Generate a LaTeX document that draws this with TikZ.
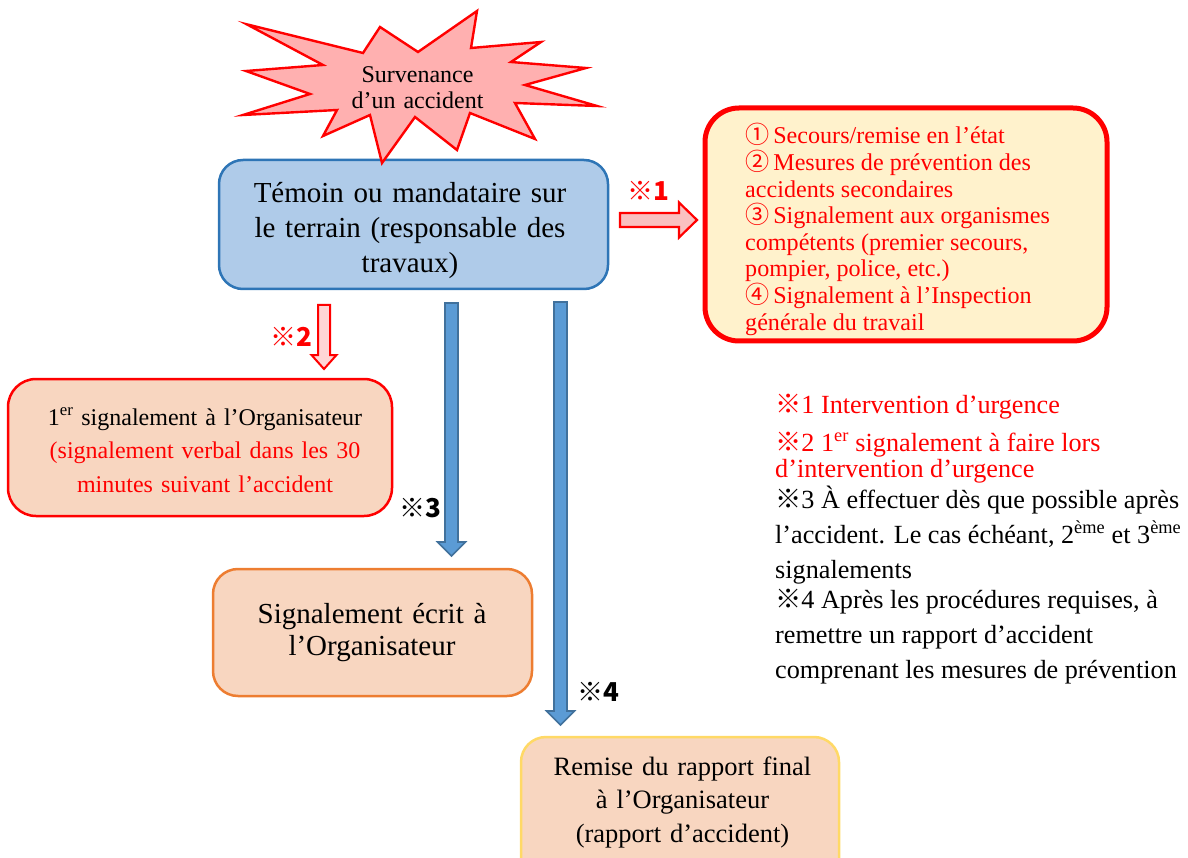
\documentclass[tikz,border=0pt]{standalone}
\usepackage{fontspec}
\setmainfont{Liberation Serif}
\newfontfamily\cjkfont{Noto Sans CJK JP}
\usetikzlibrary{calc}

\definecolor{bluefill}{RGB}{175,203,233}
\definecolor{blueline}{RGB}{46,117,182}
\definecolor{arrowblue}{RGB}{91,155,213}
\definecolor{arrowblueline}{RGB}{65,113,156}
\definecolor{pinkfill}{RGB}{255,176,176}
\definecolor{arrowpink}{RGB}{250,192,192}
\definecolor{arrowpinklight}{RGB}{255,214,214}
\definecolor{peach}{RGB}{248,214,192}
\definecolor{paleyellow}{RGB}{255,242,204}
\definecolor{orangeline}{RGB}{237,125,49}
\definecolor{goldline}{RGB}{255,217,102}

% vertical block arrow pointing down: style, start, end, shaft half width, head half width, head length
\newcommand\downblockarrow[6]{%
  \draw[#1] let \p1=(#2), \p2=(#3) in
    (\x1-#4,\y1) -- (\x1+#4,\y1) -- (\x1+#4,\y2+#6) -- (\x1+#5,\y2+#6)
    -- (\x1,\y2) -- (\x1-#5,\y2+#6) -- (\x1-#4,\y2+#6) -- cycle;}
% horizontal block arrow pointing right
\newcommand\rightblockarrow[6]{%
  \draw[#1] let \p1=(#2), \p2=(#3) in
    (\x1,\y1+#4) -- (\x2-#6,\y1+#4) -- (\x2-#6,\y1+#5) -- (\x2,\y1)
    -- (\x2-#6,\y1-#5) -- (\x2-#6,\y1-#4) -- (\x1,\y1-#4) -- cycle;}

\newcommand\circnum[1]{{\cjkfont #1}\,}
\newcommand\refmark{{\cjkfont ※}}

\begin{document}
\begin{tikzpicture}[x=1pt,y=-1pt,line join=miter,
  stepbox/.style={draw,inner sep=0pt,line width=2.5pt},
  txtc/.style={inner sep=0pt,align=center,anchor=base},
  lineL/.style={inner sep=0pt,anchor=base west},
  emergline/.style={lineL,text=red,font=\fontsize{24.1}{26}\selectfont},
  noteline/.style={lineL,font=\fontsize{26.2}{26}\selectfont},
  marklabel/.style={inner sep=0pt,font=\cjkfont\bfseries\fontsize{26}{26}\selectfont},
  redarrow/.style={draw=red,line width=2.2pt,fill=arrowpink},
  redarrowlight/.style={draw=red,line width=2pt,fill=arrowpinklight},
  bluearrow/.style={draw=arrowblueline,line width=1.6pt,fill=arrowblue},
  burst/.style={draw=red,line width=2.4pt,fill=pinkfill}]

\useasboundingbox (0,0) rectangle (1188,858);
\clip (0,0) rectangle (1188,858);

% ---- boxes ----
\node[stepbox,draw=blueline,fill=bluefill,rounded corners=24pt,
      minimum width=389pt,minimum height=129pt] (main) at (413.5,224.5) {};

\node[draw=red,line width=5pt,fill=paleyellow,rounded corners=34pt,inner sep=0pt,
      minimum width=402pt,minimum height=233pt] (emerg) at (906,224.5) {};

\node[stepbox,draw=red,fill=peach,rounded corners=28pt,
      minimum width=384pt,minimum height=137pt] (first) at (200,447.5) {};

\node[stepbox,draw=orangeline,fill=peach,rounded corners=25pt,
      minimum width=319pt,minimum height=127pt] (written) at (372.5,632.5) {};

\node[stepbox,draw=goldline,fill=peach,rounded corners=25pt,
      minimum width=318pt,minimum height=150pt] (final) at (680,812) {};

% ---- accident burst ----
\draw[burst] (246.7,24.3) -- (363,53) -- (380,27) -- (418,52) -- (477,11)
  -- (471,48) -- (541,42) -- (511,62) -- (586,68) -- (525,85) -- (597,106)
  -- (515,103) -- (535,139) -- (470,113) -- (457,150) -- (415,117)
  -- (382,163) -- (370,115) -- (323,136) -- (337,110) -- (243,115)
  -- (310,94) -- (246,71) -- (323,65) -- cycle;
\node[txtc,text width=200pt,font=\fontsize{24}{26.5}\selectfont] (burstT) at (417.5,82.5)
  {Survenance\\ d’un accident};

% ---- box texts ----
\node[txtc,text width=360pt,font=\fontsize{29}{35}\selectfont] (mainT) at (410,203)
  {Témoin ou mandataire sur\\ le terrain (responsable des\\ travaux)};

\node[emergline] (e1) at (745,144.0) {\circnum{①}Secours/remise en l’état};
\node[emergline] (e2) at (745,170.6) {\circnum{②}Mesures de prévention des};
\node[emergline] (e3) at (745,197.2) {accidents secondaires};
\node[emergline] (e4) at (745,223.8) {\circnum{③}Signalement aux organismes};
\node[emergline] (e5) at (745,250.4) {compétents (premier secours,};
\node[emergline] (e6) at (745,277.0) {pompier, police, etc.)};
\node[emergline] (e7) at (745,303.6) {\circnum{④}Signalement à l’Inspection};
\node[emergline] (e8) at (745,330.2) {générale du travail};

\node[txtc,text width=370pt,font=\fontsize{24}{33.5}\selectfont] (firstT) at (205,425)
  {1\textsuperscript{er} signalement à l’Organisateur\\
   \textcolor{red}{(signalement verbal dans les 30}\\
   \textcolor{red}{minutes suivant l’accident}};

\node[txtc,text width=310pt,font=\fontsize{29}{32}\selectfont] (writtenT) at (372,623)
  {Signalement écrit à\\ l’Organisateur};

\node[txtc,text width=310pt,font=\fontsize{26.5}{33.5}\selectfont] (finalT) at (682.5,775)
  {Remise du rapport final\\ à l’Organisateur\\ (rapport d’accident)};

% ---- block arrows ----
\coordinate (a1s) at (620,220);
\coordinate (a1e) at (697,220);
\coordinate (a2s) at (324,305);
\coordinate (a2e) at (324,369);
\coordinate (a3s) at (451.5,303);
\coordinate (a3e) at (451.5,556);
\coordinate (a4s) at (560.5,302);
\coordinate (a4e) at (560.5,725);

\rightblockarrow{redarrow}{a1s}{a1e}{7pt}{17.5pt}{18pt}
\downblockarrow{redarrowlight}{a2s}{a2e}{6pt}{12.5pt}{14pt}
\downblockarrow{bluearrow}{a3s}{a3e}{6.5pt}{14pt}{14pt}
\downblockarrow{bluearrow}{a4s}{a4e}{6.5pt}{14pt}{14pt}

% ---- arrow marks ----
\node[marklabel,text=red] (m1) at (648,191) {※1};
\node[marklabel,text=red] (m2) at (291,337) {※2};
\node[marklabel] (m3) at (420,508) {※3};
\node[marklabel] (m4) at (598,692) {※4};

% ---- notes ----
\node[noteline,text=red] (n1) at (775,413) {\refmark1 Intervention d’urgence};
\node[noteline,text=red] (n2) at (775,451) {\refmark2 1\textsuperscript{er} signalement à faire lors};
\node[noteline,text=red] (n3) at (775,477) {d’intervention d’urgence};
\node[noteline] (n4) at (775,508) {\refmark3 À effectuer dès que possible après};
\node[noteline] (n5) at (775,543) {l’accident. Le cas échéant, 2\textsuperscript{ème} et 3\textsuperscript{ème}};
\node[noteline] (n6) at (775,578) {signalements};
\node[noteline] (n7) at (775,608) {\refmark4 Après les procédures requises, à};
\node[noteline] (n8) at (775,643) {remettre un rapport d’accident};
\node[noteline] (n9) at (775,678) {comprenant les mesures de prévention};
\end{tikzpicture}
\end{document}
